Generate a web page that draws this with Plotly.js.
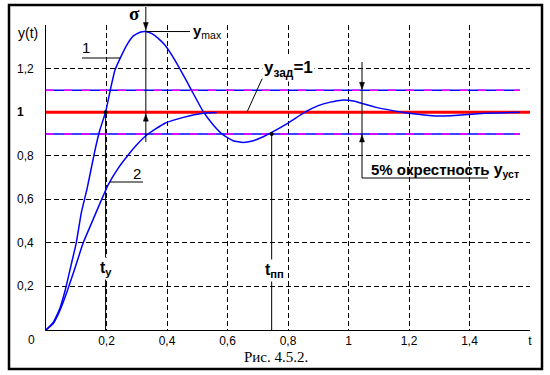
<!DOCTYPE html>
<html><head><meta charset="utf-8">
<script src="https://cdn.plot.ly/plotly-3.0.1.min.js"></script>
<style>html,body{margin:0;padding:0;background:#fff;}#chart{width:550px;height:375px;}</style>
</head><body><div id="chart"></div>
<script>
// ---- data ----
const tCurve1 = [0, 0.024, 0.046, 0.063, 0.085, 0.100, 0.117, 0.136, 0.162, 0.178, 0.197, 0.212, 0.228, 0.245, 0.267, 0.289, 0.311, 0.330, 0.350, 0.370, 0.393, 0.426, 0.454, 0.482, 0.520, 0.553, 0.586, 0.619, 0.652, 0.685, 0.718, 0.746, 0.800, 0.856, 0.900, 0.940, 0.978, 1.020, 1.088, 1.177, 1.230, 1.286, 1.362, 1.450, 1.567];
const yCurve1 = [0, 0.035, 0.100, 0.180, 0.310, 0.400, 0.540, 0.650, 0.826, 0.918, 1.000, 1.098, 1.193, 1.247, 1.308, 1.350, 1.367, 1.370, 1.360, 1.340, 1.308, 1.239, 1.170, 1.098, 1.002, 0.941, 0.895, 0.869, 0.861, 0.869, 0.887, 0.907, 0.950, 1.000, 1.030, 1.046, 1.055, 1.050, 1.023, 1.000, 0.990, 0.982, 0.986, 0.995, 1.000];
const tCurve2 = [0, 0.024, 0.046, 0.068, 0.090, 0.123, 0.152, 0.178, 0.205, 0.240, 0.267, 0.300, 0.333, 0.393, 0.454, 0.520, 0.564];
const yCurve2 = [0, 0.030, 0.090, 0.170, 0.260, 0.400, 0.495, 0.580, 0.665, 0.745, 0.795, 0.850, 0.895, 0.949, 0.976, 0.995, 0.998];
const xTickVals = [0.2, 0.4, 0.6, 0.8, 1.0, 1.2, 1.4, 1.6];
const xTickText = ['0,2', '0,4', '0,6', '0,8', '1', '1,2', '1,4', 't'];
const yTickVals = [0.2, 0.4, 0.6, 0.8, 1.0, 1.2];
const yTickText = ['0,2', '0,4', '0,6', '0,8', '<b>1</b>', '1,2'];
const setpoint = 1.0;
const bandHi = 1.1, bandLo = 0.9, bandEnd = 1.567;
const tRise = 0.197;     // t_y
const tSettle = 0.746;   // t_pp
const xMax = 1.6, yMax = 1.4;

// ---- pixel helpers for decorations (plot area 46..530 x 25..330) ----
const X0 = 46, X1 = 530, Y0 = 330, Y1 = 25;
const pX = p => (p - X0) / (X1 - X0);
const pY = p => (Y0 - p) / (Y0 - Y1);
const dX = p => (p - X0) / (X1 - X0) * xMax;
const dY = p => (Y0 - p) / (Y0 - Y1) * yMax;
const xPix = t => X0 + t / xMax * (X1 - X0);
const yPix = v => Y0 - v / yMax * (Y0 - Y1);

const iPeak = yCurve1.indexOf(Math.max(...yCurve1));
const tPeak = tCurve1[iPeak], yPeak = yCurve1[iPeak];

const BLUE = '#0000ff', MAG = '#ff00ff';
const traces = [];
[bandHi, bandLo].forEach(b => {
  traces.push({x: [0, bandEnd], y: [b, b], mode: 'lines', line: {color: BLUE, width: 1.5}, hoverinfo: 'skip'});
  traces.push({x: [0, bandEnd], y: [b, b], mode: 'lines', line: {color: MAG, width: 1.5, dash: '8px,10px'}, hoverinfo: 'skip'});
});
traces.push({x: [0, xMax], y: [setpoint, setpoint], mode: 'lines', line: {color: '#ff0000', width: 3}});
traces.push({x: [tRise, tRise], y: [0, setpoint], mode: 'lines', line: {color: '#000', width: 1}});
traces.push({x: [tSettle, tSettle], y: [0, bandLo], mode: 'lines', line: {color: '#000', width: 1}});
traces.push({x: tCurve2, y: yCurve2, mode: 'lines', line: {color: BLUE, width: 1.5, shape: 'spline', smoothing: 0.4}});
traces.push({x: tCurve1, y: yCurve1, mode: 'lines', line: {color: BLUE, width: 1.5, shape: 'spline', smoothing: 0.4}});
traces.push({x: [tRise, tSettle], y: [setpoint, bandLo], mode: 'markers', marker: {color: '#000', size: 4}});

const F = 'Arial, "Liberation Sans", sans-serif';
const txt = (o) => Object.assign({showarrow: false, xanchor: 'center', yanchor: 'middle'}, o);
const ann = [];
yTickVals.forEach((v, i) => ann.push(txt({xref: 'paper', yref: 'y', x: pX(15), y: v, xanchor: 'left', text: yTickText[i], font: {family: F, size: 12, color: '#000'}})));
ann.push(txt({xref: 'paper', yref: 'paper', x: pX(16), y: pY(32.5), xanchor: 'left', text: 'y(t)', font: {family: F, size: 14, color: '#000'}}));
ann.push(txt({xref: 'paper', yref: 'paper', x: pX(31), y: pY(340), text: '0', font: {family: F, size: 12, color: '#000'}}));
// curve labels
ann.push(txt({xref: 'paper', yref: 'paper', x: pX(86), y: pY(48), text: '1', font: {family: F, size: 15, color: '#000'}}));
ann.push(txt({xref: 'paper', yref: 'paper', x: pX(137), y: pY(173), text: '2', font: {family: F, size: 15, color: '#000'}}));
// sigma & ymax
ann.push(txt({xref: 'paper', yref: 'paper', x: pX(134), y: pY(13), text: '<b>σ</b>', font: {family: '"Liberation Serif", serif', size: 19, color: '#000'}}));
ann.push(txt({xref: 'paper', yref: 'y', x: pX(191), y: yPeak, xanchor: 'left', text: '<b>y</b><sub>max</sub>', font: {family: F, size: 15, color: '#000'}}));
// y_zad
ann.push(txt({xref: 'paper', yref: 'paper', x: pX(262), y: pY(69), xanchor: 'left', text: '<b>y<sub>зад</sub>=1</b>', bgcolor: '#fff', font: {family: F, size: 17, color: '#000'}}));
// 5% band
ann.push(txt({xref: 'paper', yref: 'paper', x: pX(369), y: pY(170), xanchor: 'left', text: '<b>5% окрестность <span style="font-size:16px">y</span><sub>уст</sub></b>', font: {family: F, size: 15, color: '#000'}}));
// t_y, t_pp
ann.push(txt({xref: 'x', yref: 'paper', x: tRise, y: pY(268), text: '<b>t<sub>у</sub></b>', bgcolor: '#fff', font: {family: F, size: 16, color: '#000'}}));
ann.push(txt({xref: 'x', yref: 'paper', x: tSettle + 0.01, y: pY(270), text: '<b>t<sub>пп</sub></b>', bgcolor: '#fff', font: {family: F, size: 16, color: '#000'}}));
// caption
ann.push(txt({xref: 'paper', yref: 'paper', x: pX(276), y: pY(357), text: 'Рис. 4.5.2.', font: {family: '"Liberation Serif", "Times New Roman", serif', size: 15, color: '#000'}}));

const L = {color: '#000', width: 1};
// arrowhead triangles (pixel tip, direction +1 = pointing down)
const head = (px, tipY, dir) => {
  const b = tipY - dir * 7;
  return {type: 'path', xref: 'paper', yref: 'paper',
    path: 'M' + pX(px) + ',' + pY(tipY) + ' L' + pX(px - 2.5) + ',' + pY(b) + ' L' + pX(px + 2.5) + ',' + pY(b) + ' Z',
    fillcolor: '#000', line: {color: '#000', width: 0.5}};
};
const pxPeak = xPix(tPeak), pxBand = 362;
const shapes = [
  {type: 'rect', xref: 'paper', yref: 'paper', x0: pX(9), x1: pX(542), y0: pY(369), y1: pY(5), line: {color: '#000', width: 2.5}},
  // sigma line
  {type: 'line', xref: 'x', yref: 'paper', x0: tPeak, x1: tPeak, y0: pY(142), y1: pY(7), line: L},
  {type: 'line', xref: 'x', yref: 'y', x0: tPeak, x1: dX(190), y0: yPeak, y1: yPeak, line: L},
  head(pxPeak, yPix(yPeak) - 2, 1),
  head(pxPeak, yPix(setpoint) + 2, -1),
  // curve label leaders
  {type: 'line', xref: 'paper', yref: 'paper', x0: pX(82), x1: pX(120), y0: pY(58), y1: pY(58), line: L},
  {type: 'line', xref: 'paper', yref: 'paper', x0: pX(110), x1: pX(143), y0: pY(182), y1: pY(182), line: L},
  // y_zad leader
  {type: 'line', xref: 'paper', yref: 'paper', x0: pX(262), x1: pX(313), y0: pY(79), y1: pY(79), line: L},
  {type: 'line', xref: 'paper', yref: 'y', x0: pX(262), x1: pX(247), y0: dY(79), y1: setpoint, line: L},
  // 5% band leader
  {type: 'line', xref: 'paper', yref: 'paper', x0: pX(pxBand), x1: pX(pxBand), y0: pY(62), y1: pY(178), line: L},
  {type: 'line', xref: 'paper', yref: 'paper', x0: pX(pxBand), x1: pX(488), y0: pY(178), y1: pY(178), line: L},
  head(pxBand, yPix(bandHi) - 1, 1),
  head(pxBand, yPix(bandLo) + 1, -1)
];

const axisCommon = {showgrid: true, gridcolor: '#000', gridwidth: 1, griddash: '5px,3px', zeroline: false, showline: true, linecolor: '#000', linewidth: 1, ticks: '', fixedrange: true};
const layout = {
  width: 550, height: 375,
  margin: {l: X0, r: 550 - X1, t: Y1, b: 375 - Y0},
  paper_bgcolor: '#fff', plot_bgcolor: '#fff', showlegend: false,
  xaxis: Object.assign({}, axisCommon, {range: [0, xMax], tickvals: xTickVals, ticktext: xTickText, tickfont: {family: F, size: 12, color: '#000'}}),
  yaxis: Object.assign({}, axisCommon, {range: [0, yMax], tickvals: yTickVals.concat([yMax]), showticklabels: false}),
  annotations: ann, shapes: shapes
};
Plotly.newPlot('chart', traces, layout, {displayModeBar: false, staticPlot: true});
</script></body></html>
